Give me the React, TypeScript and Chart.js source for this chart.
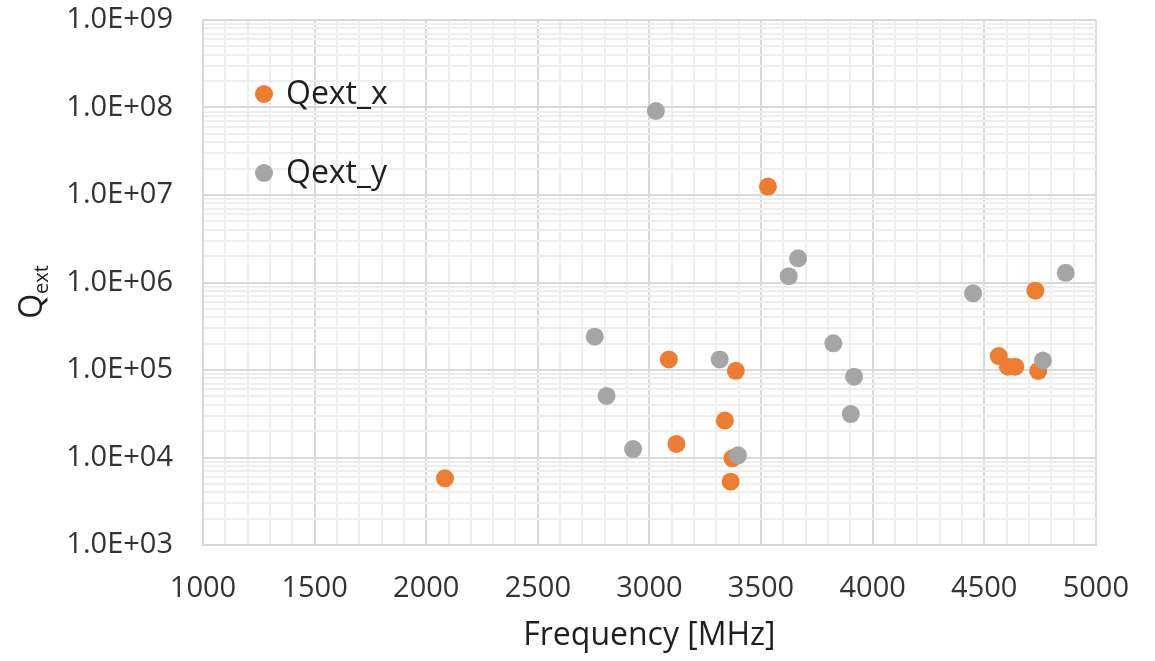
import React, { useEffect, useRef } from "react";
import { Chart, registerables } from "chart.js";

Chart.register(...registerables);

// ---- Data ----
const seriesNames = ["Qext_x", "Qext_y"];
const seriesColors = ["#ED7D31", "#A5A5A5"];

const qextXFreq = [2084, 3087, 3121, 3338, 3387, 3372, 3364, 3531, 4729, 4565, 4606, 4639, 4742];
const qextXVal = [5780, 132000, 14300, 26400, 98000, 9800, 5300, 12500000, 806000, 144500, 109000, 109000, 97500];

const qextYFreq = [3029, 3666, 3624, 2755, 2808, 2927, 3315, 3397, 3824, 3917, 3902, 4450, 4865, 4763];
const qextYVal = [91200000, 1890000, 1180000, 240000, 50500, 12500, 132000, 10600, 202000, 83900, 31400, 752000, 1290000, 128000];

const xMin = 1000;
const xMax = 5000;
const xMajorStep = 500;
const xMinorStep = 100;
const yDecades = [3, 4, 5, 6, 7, 8, 9];
const yMinorMultipliers = [1, 2, 3, 4, 5, 6, 7, 8, 9];

const xTitle = "Frequency [MHz]";
const yTitleMain = "Q";
const yTitleSub = "ext";

const FONT = "'Open Sans', sans-serif";
const MAJOR_GRID = "#d9d9d9";
const MINOR_GRID = "#eeeeee";
const TICK_COLOR = "#333333";
const TITLE_COLOR = "#1f1f1f";

const isDecade = (v: number) => {
  const l = Math.log10(v);
  return Math.abs(l - Math.round(l)) < 1e-9;
};

const formatSci = (v: number) => {
  const e = Math.round(Math.log10(v));
  const sign = e >= 0 ? "+" : "-";
  const abs = Math.abs(e);
  return "1.0E" + sign + (abs < 10 ? "0" + abs : String(abs));
};

export default function App() {
  const ref = useRef<HTMLCanvasElement>(null);

  useEffect(() => {
    if (!ref.current) return;

    const legendPlugin = {
      id: "insideLegend",
      afterDraw(chart: any) {
        const { ctx, chartArea } = chart;
        ctx.save();
        seriesNames.forEach((name, i) => {
          const cx = chartArea.left + 61;
          const cy = chartArea.top + 74 + i * 79;
          ctx.beginPath();
          ctx.arc(cx, cy, 9, 0, Math.PI * 2);
          ctx.fillStyle = seriesColors[i];
          ctx.fill();
          ctx.font = `32px ${FONT}`;
          ctx.fillStyle = TITLE_COLOR;
          ctx.textAlign = "left";
          ctx.textBaseline = "middle";
          ctx.fillText(name, cx + 22, cy + 1);
        });
        ctx.restore();
      },
    };

    const yTitlePlugin = {
      id: "yTitle",
      afterDraw(chart: any) {
        const { ctx } = chart;
        ctx.save();
        ctx.translate(42, 292);
        ctx.rotate(-Math.PI / 2);
        ctx.fillStyle = TITLE_COLOR;
        ctx.textBaseline = "alphabetic";
        ctx.textAlign = "left";
        ctx.font = `32px ${FONT}`;
        const qw = ctx.measureText(yTitleMain).width;
        ctx.font = `20px ${FONT}`;
        const sw = ctx.measureText(yTitleSub).width;
        const total = qw + sw;
        const start = -total / 2;
        ctx.font = `32px ${FONT}`;
        ctx.fillText(yTitleMain, start, 0);
        ctx.font = `20px ${FONT}`;
        ctx.fillText(yTitleSub, start + qw, 6);
        ctx.restore();
      },
    };

    const chart = new Chart(ref.current, {
      type: "scatter",
      data: {
        datasets: [
          {
            label: seriesNames[0],
            data: qextXFreq.map((x, i) => ({ x, y: qextXVal[i] })),
            backgroundColor: seriesColors[0],
            borderWidth: 0,
            pointRadius: 9,
            pointHoverRadius: 9,
            order: 1,
          },
          {
            label: seriesNames[1],
            data: qextYFreq.map((x, i) => ({ x, y: qextYVal[i] })),
            backgroundColor: seriesColors[1],
            borderWidth: 0,
            pointRadius: 9,
            pointHoverRadius: 9,
            order: 0,
          },
        ],
      },
      options: {
        animation: false,
        responsive: true,
        maintainAspectRatio: false,
        layout: { padding: { left: 0, top: 20, right: 58, bottom: 0 } },
        plugins: {
          legend: { display: false },
          tooltip: { enabled: false },
        },
        scales: {
          x: {
            type: "linear",
            min: xMin,
            max: xMax,
            afterFit: (s: any) => {
              s.height = 116;
            },
            afterBuildTicks: (s: any) => {
              const t = [];
              for (let v = xMin; v <= xMax; v += xMinorStep) t.push({ value: v });
              s.ticks = t;
            },
            ticks: {
              autoSkip: false,
              maxRotation: 0,
              padding: 26,
              color: TICK_COLOR,
              font: { family: FONT, size: 29 },
              callback: (v: any) => (Number(v) % xMajorStep === 0 ? String(v) : ""),
            },
            grid: {
              drawTicks: false,
              color: (c: any) => (c.tick && c.tick.value % xMajorStep === 0 ? MAJOR_GRID : MINOR_GRID),
              lineWidth: 2,
            },
            border: { color: MAJOR_GRID, width: 2 },
            title: {
              display: true,
              text: xTitle,
              color: TITLE_COLOR,
              font: { family: FONT, size: 32 },
              padding: { top: 0, bottom: 6 },
            },
          },
          y: {
            type: "logarithmic",
            min: Math.pow(10, yDecades[0]),
            max: Math.pow(10, yDecades[yDecades.length - 1]),
            afterFit: (s: any) => {
              s.width = 203;
              s.paddingTop = 0;
              s.paddingBottom = 0;
            },
            afterBuildTicks: (s: any) => {
              const t: any[] = [];
              yDecades.forEach((d, di) => {
                if (di === yDecades.length - 1) {
                  t.push({ value: Math.pow(10, d) });
                } else {
                  yMinorMultipliers.forEach((m) => t.push({ value: m * Math.pow(10, d) }));
                }
              });
              s.ticks = t;
            },
            ticks: {
              autoSkip: false,
              padding: 30,
              color: TICK_COLOR,
              font: { family: FONT, size: 29 },
              callback: (v: any) => (isDecade(Number(v)) ? formatSci(Number(v)) : ""),
            },
            grid: {
              drawTicks: false,
              color: (c: any) => (c.tick && isDecade(c.tick.value) ? MAJOR_GRID : MINOR_GRID),
              lineWidth: 2,
            },
            border: { color: MAJOR_GRID, width: 2 },
            title: { display: false },
          },
        },
      },
      plugins: [legendPlugin, yTitlePlugin],
    } as any);

    return () => chart.destroy();
  }, []);

  return (
    <div style={{ position: "fixed", left: 0, top: 0, width: 1155, height: 661, background: "#fff" }}>
      <canvas ref={ref} />
    </div>
  );
}
